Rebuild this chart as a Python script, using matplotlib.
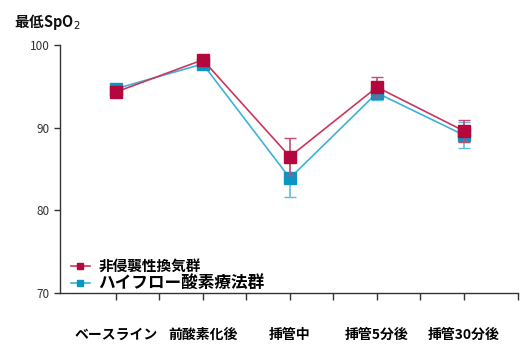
import matplotlib.pyplot as plt
import numpy as np

plt.rcParams['font.family'] = ['Noto Sans CJK JP', 'DejaVu Sans']

categories = ['ベースライン', '前酸素化後', '挿管中', '挿管5分後', '挿管30分後']
niv_mean = [94.3, 98.2, 86.5, 94.9, 89.6]
niv_err = [0.3, 0.3, 2.2, 1.2, 1.3]
hfnc_mean = [94.7, 97.7, 83.9, 94.2, 89.1]
hfnc_err = [0.4, 0.3, 2.3, 0.8, 1.6]
labels = ['非侵襲性換気群', 'ハイフロー酸素療法群']

red = '#B3073D'
blue = '#0A96C2'

fig = plt.figure(figsize=(5.31, 3.54), dpi=100)
ax = fig.add_axes([0.113, 0.172, 0.8625, 0.701])

x = np.arange(len(categories))
ax.errorbar(x, hfnc_mean, yerr=hfnc_err, fmt='-s', color='#3BB3D9', mfc=blue, mec=blue,
            ecolor='#5BC0E0', lw=1.2, elinewidth=1.2, capsize=4, ms=8,
            label=labels[1], zorder=3)
ax.errorbar(x, niv_mean, yerr=niv_err, fmt='-s', color='#C8385E', mfc=red, mec=red,
            ecolor='#C84A6E', lw=1.2, elinewidth=1.2, capsize=4, ms=8,
            label=labels[0], zorder=5)

ax.set_xlim(-0.64, 4.62)
ax.set_ylim(70, 100)
ax.set_yticks([70, 80, 90, 100])
ax.set_xticks(x)
ax.set_xticklabels(categories, fontsize=10, fontweight='bold')
ax.set_xticks(list(np.arange(0.5, 3.6, 1.0)) + [4.62], minor=True)
ax.tick_params(axis='x', which='both', length=5, width=1, color='#333333', pad=20)
ax.tick_params(axis='y', length=4, width=1, color='#333333', labelsize=8.5, labelcolor='#333333')
for s in ['top', 'right']:
    ax.spines[s].set_visible(False)
for s in ['left', 'bottom']:
    ax.spines[s].set_color('#333333')
    ax.spines[s].set_linewidth(1)

handles, hl = ax.get_legend_handles_labels()
handles = [h[0] for h in handles]
leg = ax.legend(handles[::-1], hl[::-1], loc='lower left', bbox_to_anchor=(-0.005, -0.05),
                frameon=False, handlelength=1.3, handletextpad=0.6, labelspacing=0.05,
                markerscale=0.6, prop={'weight': 'bold', 'size': 10.5})
leg.get_texts()[1].set_fontsize(12)

fig.text(0.026, 0.925, '最低SpO$_2$', fontsize=10.5, fontweight='bold', color='#111111')

fig.savefig('out.png', dpi=100)
